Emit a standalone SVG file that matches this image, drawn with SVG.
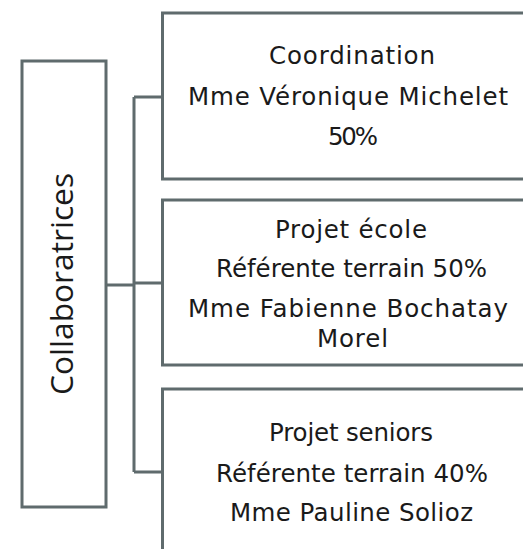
<svg xmlns="http://www.w3.org/2000/svg" width="523" height="549" viewBox="0 0 523 549">
<style>
.box{fill:#ffffff;stroke:#5f6b6d;stroke-width:3}
.conn{fill:none;stroke:#5f6b6d;stroke-width:3}
.t{font-family:"DejaVu Sans","Liberation Sans",sans-serif;font-size:24.5px;fill:#1a1a1a;text-anchor:middle}
.v{font-family:"Open Sans","DejaVu Sans",sans-serif;font-size:31px;fill:#1a1a1a;text-anchor:middle}
</style>
<rect width="523" height="549" fill="#ffffff"/>
<g id="connectors">
<path class="conn" d="M106 285 H134 M134 97 V472 M134 97 H162 M134 283 H162 M134 472 H162"/>
</g>
<g id="collaboratrices">
<rect class="box" x="22" y="61" width="84" height="446"/>
<text class="v" transform="translate(73,284) rotate(-90)" textLength="222" lengthAdjust="spacingAndGlyphs">Collaboratrices</text>
</g>
<g id="coordination">
<rect class="box" x="162.5" y="13" width="380" height="166"/>
<text class="t" x="352" y="64" textLength="166">Coordination</text>
<text class="t" x="348" y="105" textLength="320">Mme Véronique Michelet</text>
<text class="t" x="353" y="145" textLength="50">50%</text>
</g>
<g id="projet-ecole">
<rect class="box" x="162.5" y="200" width="380" height="165"/>
<text class="t" x="351" y="238" textLength="152">Projet école</text>
<text class="t" x="351.5" y="277" textLength="271">Référente terrain 50%</text>
<text class="t" x="348" y="317" textLength="320">Mme Fabienne Bochatay</text>
<text class="t" x="352.5" y="347" textLength="71">Morel</text>
</g>
<g id="projet-seniors">
<rect class="box" x="162.5" y="389" width="380" height="180"/>
<text class="t" x="351" y="441" textLength="164">Projet seniors</text>
<text class="t" x="352" y="482" textLength="272">Référente terrain 40%</text>
<text class="t" x="351.5" y="521" textLength="243">Mme Pauline Solioz</text>
</g>
</svg>
